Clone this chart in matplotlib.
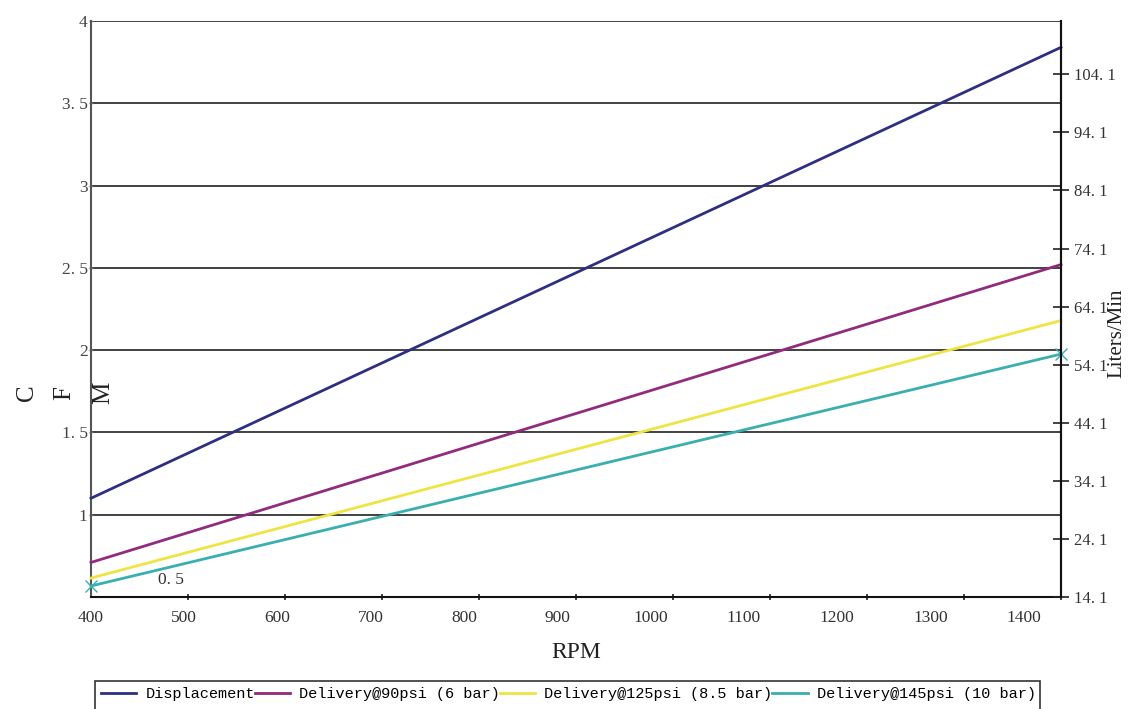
import matplotlib
matplotlib.use("Agg")
import matplotlib.pyplot as plt
import numpy as np
from matplotlib.lines import Line2D
from matplotlib.patches import Rectangle

# ---- data ----
rpm = [400, 1440]
displacement = [1.10, 3.84]
delivery_90 = [0.71, 2.52]
delivery_125 = [0.615, 2.18]
delivery_145 = [0.567, 1.976]

series_names = ["Displacement", "Delivery@90psi (6 bar)",
                "Delivery@125psi (8.5 bar)", "Delivery@145psi (10 bar)"]
series_colors = ["#2E2F80", "#922A7E", "#EEE444", "#3AAFB0"]

x_tick_values = [400, 500, 600, 700, 800, 900, 1000, 1100, 1200, 1300, 1400]
y_left_ticks = [1, 1.5, 2, 2.5, 3, 3.5, 4]
y_left_labels = ["1", "1. 5", "2", "2. 5", "3", "3. 5", "4"]
y_right_ticks = [14.1, 24.1, 34.1, 44.1, 54.1, 64.1, 74.1, 84.1, 94.1, 104.1]
y_right_labels = ["14. 1", "24. 1", "34. 1", "44. 1", "54. 1", "64. 1",
                  "74. 1", "84. 1", "94. 1", "104. 1"]
CFM_TO_LPM = 28.317

serif = "Liberation Serif"
mono = "Liberation Mono"

W, H = 1128, 709
fig = plt.figure(figsize=(W/100, H/100), dpi=100)
ax = fig.add_axes([91/W, 1 - 597/H, (1061 - 91)/W, (597 - 21)/H])

ax.set_xlim(400, 1440)
ax.set_ylim(0.5, 4.0)

for yv in [1, 1.5, 2, 2.5, 3, 3.5, 4]:
    ax.axhline(yv, color="#333333", lw=1.3, zorder=1)

all_series = [displacement, delivery_90, delivery_125, delivery_145]
for vals, c, n in zip(all_series, series_colors, series_names):
    ax.plot(rpm, vals, color=c, lw=2.0, label=n, zorder=3, clip_on=False)
ax.plot(rpm, delivery_145, ls="none", marker="x", ms=8, mew=1.0,
        color=series_colors[3], zorder=4, clip_on=False)

ax.spines["top"].set_visible(False)
ax.spines["left"].set_color("#555555")
ax.spines["left"].set_linewidth(1.5)
ax.spines["bottom"].set_color("#111111")
ax.spines["bottom"].set_linewidth(1.5)
ax.spines["right"].set_color("#111111")
ax.spines["right"].set_linewidth(1.5)

# x ticks: marks at equal intervals, labels at 100 RPM steps
ax.set_xticks(x_tick_values)
ax.set_xticklabels([str(v) for v in x_tick_values], fontfamily=serif, fontsize=12.5,
                   color="#333333")
ax.tick_params(axis="x", which="major", length=0, pad=9)
ax.set_xticks(np.linspace(400, 1440, 11), minor=True)
ax.tick_params(axis="x", which="minor", length=5, width=1.2, color="#222222",
               direction="inout")

ax.set_yticks(y_left_ticks)
ax.set_yticklabels(y_left_labels, fontfamily=serif, fontsize=12.5, color="#444444")
ax.tick_params(axis="y", length=3, width=1, color="#777777", pad=1, direction="inout")
ax.text(0.069, 0.603, "0. 5", transform=ax.get_yaxis_transform(),
        ha="left", va="center", fontfamily=serif, fontsize=12.5, color="#333333")

ax.set_xlabel("RPM", fontfamily=serif, fontsize=17, color="#222222", labelpad=12)

# CFM letters
for ch, xp in zip("CFM", [27, 64, 103]):
    fig.text(xp/W, 1 - 393/H, ch, rotation=90, ha="center", va="center",
             fontfamily=serif, fontsize=18, color="#222222")

# right axis
ax2 = ax.twinx()
ax2.set_ylim(0.5*CFM_TO_LPM, 4.0*CFM_TO_LPM)
ax2.set_yticks(y_right_ticks)
ax2.set_yticklabels(y_right_labels, fontfamily=serif, fontsize=12, color="#333333")
ax2.tick_params(axis="y", length=12, width=1.2, color="#222222",
                direction="inout", pad=3)
for s in ["top", "left", "bottom"]:
    ax2.spines[s].set_visible(False)
ax2.spines["right"].set_color("#111111")
ax2.spines["right"].set_linewidth(1.5)
fig.text(1117/W, 1 - 333/H, "Liters/Min", rotation=90, ha="center",
         va="center", fontfamily=serif, fontsize=15, color="#222222")

# legend (frame drawn separately, running off the bottom edge like the reference)
handles = [Line2D([0], [0], color=c, lw=2) for c in series_colors]
leg = fig.legend(handles, series_names, loc="center left",
                 bbox_to_anchor=(95/W, 1 - 694/H), ncol=4, frameon=False,
                 borderpad=0.4, borderaxespad=0.0,
                 handlelength=2.3, handletextpad=0.6, columnspacing=0.0,
                 prop={"family": mono, "size": 11})
fig.add_artist(Rectangle((95/W, -0.05), (1040 - 95)/W, 0.05 + 1 - 681/H,
                         transform=fig.transFigure, fill=False,
                         edgecolor="#333333", lw=1.2))

fig.savefig("out.png", dpi=100)
